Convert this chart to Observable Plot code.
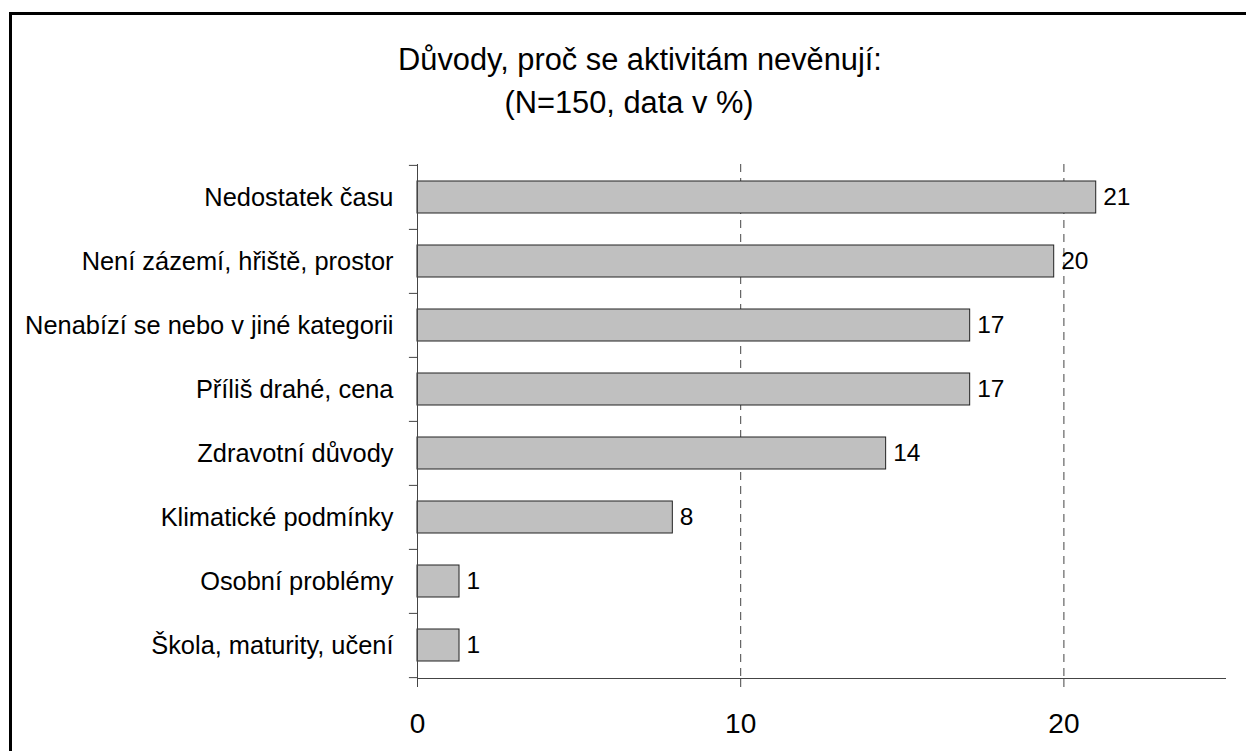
<!DOCTYPE html>
<html>
<head>
<meta charset="utf-8">
<script src="https://cdn.jsdelivr.net/npm/d3@7"></script>
<script src="https://cdn.jsdelivr.net/npm/@observablehq/plot@0.6"></script>
<style>
  html, body { margin: 0; padding: 0; background: #fff; overflow: hidden; }
  #wrap { position: relative; width: 1246px; height: 751px; overflow: hidden; font-family: 'Liberation Sans', Arial, sans-serif; }
  #border { position: absolute; left: 9px; top: 12px; width: 1300px; height: 800px; border: 3px solid #000; box-sizing: border-box; }
  .title { position: absolute; font-size: 30.8px; line-height: 30px; white-space: nowrap; transform: translateX(-50%); color: #000; }
  #chart { position: absolute; left: 0; top: 0; }
</style>
</head>
<body>
<div id="wrap">
  <div id="border"></div>
  <div id="chart"></div>
  <div class="title" id="t1" style="left:640px; top:45px;"></div>
  <div class="title" id="t2" style="left:629px; top:88px;"></div>
</div>
<script>
const titleLine1 = "Důvody, proč se aktivitám nevěnují:";
const titleLine2 = "(N=150, data v %)";
const categories = [
  "Nedostatek času",
  "Není zázemí, hřiště, prostor",
  "Nenabízí se nebo v jiné kategorii",
  "Příliš drahé, cena",
  "Zdravotní důvody",
  "Klimatické podmínky",
  "Osobní problémy",
  "Škola, maturity, učení"
];
const values = [21.0, 19.7, 17.1, 17.1, 14.5, 7.9, 1.3, 1.3];
const valueLabels = [21, 20, 17, 17, 14, 8, 1, 1];
const xTicks = [0, 10, 20];
const gridLines = [10, 20];
const xDomain = [0, 25];

document.getElementById("t1").textContent = titleLine1;
document.getElementById("t2").textContent = titleLine2;

const data = categories.map((c, i) => ({category: c, value: values[i], label: valueLabels[i]}));
const halfStep = 32.125;
const axisColor = "#444";

const chart = Plot.plot({
  width: 1246,
  height: 751,
  marginLeft: 417,
  marginRight: 21,
  marginTop: 164,
  marginBottom: 73,
  style: {fontFamily: "'Liberation Sans', Arial, sans-serif", background: "transparent", color: "#000"},
  x: {domain: xDomain},
  y: {domain: categories, paddingInner: 0.5, paddingOuter: 0.25},
  marks: [
    Plot.ruleX(gridLines, {stroke: axisColor, strokeDasharray: "8,6", strokeWidth: 1}),
    Plot.barX(data, {x: "value", y: "category", fill: "#c0c0c0", stroke: "#222", strokeWidth: 1}),
    Plot.text(data, {x: "value", y: "category", text: "label", dx: 7, textAnchor: "start", fontSize: 24.5, fill: "#000"}),
    Plot.axisX({ticks: xTicks, tickSize: 9, tickPadding: 26, fontSize: 28, stroke: axisColor, fill: "#000", label: null, tickFormat: d => String(d)}),
    Plot.axisY({tickSize: 0, tickPadding: 24, fontSize: 25.4, fill: "#000", label: null}),
    Plot.frame({anchor: "left", stroke: axisColor}),
    Plot.frame({anchor: "bottom", stroke: axisColor}),
    Plot.ruleY(categories, {x1: -0.25, x2: 0, dy: -halfStep, stroke: axisColor}),
    Plot.ruleY([categories[categories.length - 1]], {x1: -0.25, x2: 0, dy: halfStep, stroke: axisColor})
  ]
});
document.getElementById("chart").appendChild(chart);
</script>
</body>
</html>
